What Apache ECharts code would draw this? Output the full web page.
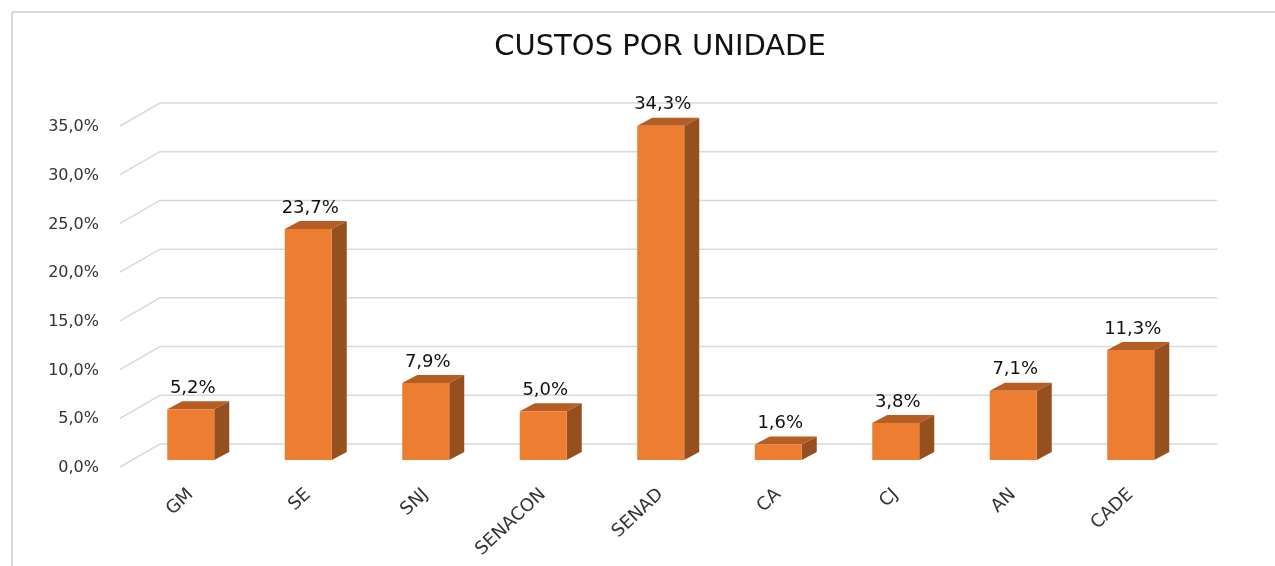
<!DOCTYPE html>
<html>
<head>
<meta charset="utf-8">
<script src="https://cdn.jsdelivr.net/npm/echarts@6/dist/echarts.min.js"></script>
<style>html,body{margin:0;padding:0;background:#fff;}#chart{width:1275px;height:566px;}</style>
</head>
<body>
<div id="chart"></div>
<script>
const categories = ['GM', 'SE', 'SNJ', 'SENACON', 'SENAD', 'CA', 'CJ', 'AN', 'CADE'];
const values = [5.2, 23.7, 7.9, 5.0, 34.3, 1.6, 3.8, 7.1, 11.3];
const yTicks = [0, 5, 10, 15, 20, 25, 30, 35];
const yTickLabels = ['0,0%', '5,0%', '10,0%', '15,0%', '20,0%', '25,0%', '30,0%', '35,0%'];
const titleText = 'CUSTOS POR UNIDADE';

const FONT = 'DejaVu Sans';
const chart = echarts.init(document.getElementById('chart'), null, {renderer: 'canvas'});

function fmt(v) { return v.toFixed(1).replace('.', ',') + '%'; }

const option = {
  backgroundColor: '#ffffff',
  animation: false,
  title: {
    text: titleText,
    left: 655, top: 28, textAlign: 'center',
    textStyle: {fontFamily: FONT, fontSize: 29, fontWeight: 'normal', color: '#111111'}
  },
  graphic: [
    {type: 'line', shape: {x1: 12, y1: 12, x2: 1275, y2: 12}, style: {stroke: '#d9d9d9', lineWidth: 2}},
    {type: 'line', shape: {x1: 12, y1: 12, x2: 12, y2: 566}, style: {stroke: '#d9d9d9', lineWidth: 2}}
  ],
  grid: {left: 132, right: 85.5, top: 119, bottom: 106},
  xAxis: {
    type: 'category', data: categories,
    axisLine: {show: false}, axisTick: {show: false},
    axisLabel: {rotate: 43, margin: 32, fontFamily: FONT, fontSize: 18, color: '#333333', interval: 0}
  },
  yAxis: {
    type: 'value', min: 0, max: 35, interval: 5,
    axisLine: {show: false}, axisTick: {show: false}, axisLabel: {show: false}, splitLine: {show: false}
  },
  series: [
    {
      type: 'custom', z: 1, silent: true,
      data: yTicks.map((v, i) => [0, v, i]),
      renderItem: function (params, api) {
        const cs = params.coordSys;
        const y = api.coord([0, api.value(1)])[1];
        const fx = cs.x - 12, fy = y + 7;
        const bx = cs.x + 28, by = y - 16;
        const rx = cs.x + cs.width + 28;
        return {
          type: 'group',
          children: [
            {type: 'polyline', shape: {points: [[fx, fy], [bx, by], [rx, by]]},
             style: {stroke: '#d9d9d9', lineWidth: 1.5, fill: null}},
            {type: 'text', x: fx - 21, y: fy + 1,
             style: {text: yTickLabels[api.value(2)], align: 'right', verticalAlign: 'middle',
                     fontFamily: FONT, fontSize: 16, fill: '#333333'}}
          ]
        };
      }
    },
    {
      type: 'custom', z: 2, silent: true,
      data: values.map((v, i) => [i, v]),
      renderItem: function (params, api) {
        const i = api.value(0), v = api.value(1);
        const base = api.coord([i, 0]);
        const top = api.coord([i, v]);
        const bw = 47, dx = 15, dy = -8;
        const x0 = base[0] - bw / 2, x1 = x0 + bw;
        const ty = top[1], by = base[1];
        return {
          type: 'group',
          children: [
            {type: 'polygon', shape: {points: [[x1, ty], [x1 + dx, ty + dy], [x1 + dx, by + dy], [x1, by]]},
             style: {fill: '#964f1e'}},
            {type: 'polygon', shape: {points: [[x0, ty], [x1, ty], [x1 + dx, ty + dy], [x0 + dx, ty + dy]]},
             style: {fill: '#b55d23'}},
            {type: 'rect', shape: {x: x0, y: ty, width: bw, height: by - ty},
             style: {fill: '#ed7d31'}},
            {type: 'text', x: base[0] + 2, y: ty + dy - 4,
             style: {text: fmt(v), align: 'center', verticalAlign: 'bottom',
                     fontFamily: FONT, fontSize: 18, fill: '#111111'}}
          ]
        };
      }
    }
  ]
};
chart.setOption(option);
</script>
</body>
</html>
